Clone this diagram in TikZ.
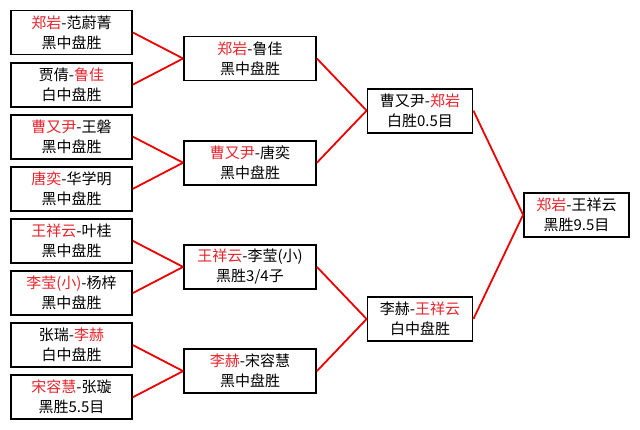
\documentclass[tikz,border=0pt]{standalone}
\usepackage{fontspec}
\setmainfont{Noto Sans CJK SC}
\definecolor{winred}{RGB}{232,36,44}
\definecolor{linkred}{RGB}{236,0,0}
\usepackage{tikz}
\usetikzlibrary{positioning}
\newcommand{\winner}[1]{\textcolor{winred}{#1}}

\begin{document}
\begin{tikzpicture}[x=1pt,y=-1pt,
    game/.style={draw, line width=1.8pt, minimum height=44pt, inner sep=0pt,
      align=center, font=\fontsize{15}{20}\selectfont},
    link/.style={linkred, line width=1.8pt}]
        \useasboundingbox[fill=white] (0,0) rectangle (640,429);
        % First round
        \node[game, minimum width=121pt] (r1a) at (71.5,32.5)  {\winner{郑岩}-范蔚菁\\黑中盘胜};
        \node[game, minimum width=121pt] (r1b) at (71.5,84.6)  {贾倩-\winner{鲁佳}\\白中盘胜};
        \node[game, minimum width=121pt] (r1c) at (71.5,136.7) {\winner{曹又尹}-王磐\\黑中盘胜};
        \node[game, minimum width=121pt] (r1d) at (71.5,188.8) {\winner{唐奕}-华学明\\黑中盘胜};
        \node[game, minimum width=121pt] (r1e) at (71.5,240.9) {\winner{王祥云}-叶桂\\黑中盘胜};
        \node[game, minimum width=121pt] (r1f) at (71.5,293.0) {\winner{李莹(小)}-杨梓\\黑中盘胜};
        \node[game, minimum width=121pt] (r1g) at (71.5,345.1) {张瑞-\winner{李赫}\\白中盘胜};
        \node[game, minimum width=121pt] (r1h) at (71.5,397.2) {\winner{宋容慧}-张璇\\黑胜5.5目};
        % Second round
        \node[game, minimum width=132pt] (r2a) at (250,58.5)  {\winner{郑岩}-鲁佳\\黑中盘胜};
        \node[game, minimum width=132pt] (r2b) at (250,162.7) {\winner{曹又尹}-唐奕\\黑中盘胜};
        \node[game, minimum width=132pt] (r2c) at (250,266.9) {\winner{王祥云}-李莹(小)\\黑胜3/4子};
        \node[game, minimum width=132pt] (r2d) at (250,371.1) {\winner{李赫}-宋容慧\\黑中盘胜};
        % Semi-final
        \node[game, minimum width=105pt] (r3a) at (420,110.6) {曹又尹-\winner{郑岩}\\白胜0.5目};
        \node[game, minimum width=105pt] (r3b) at (420,319.0) {李赫-\winner{王祥云}\\白中盘胜};
        % Final
        \node[game, minimum width=105pt] (fin) at (576.5,214.8) {\winner{郑岩}-王祥云\\黑胜9.5目};
        % Links
        \foreach \a/\b in {r1a/r2a, r1b/r2a, r1c/r2b, r1d/r2b, r1e/r2c, r1f/r2c, r1g/r2d, r1h/r2d,
                           r2a/r3a, r2b/r3a, r2c/r3b, r2d/r3b, r3a/fin, r3b/fin} {
          \draw[link] (\a.east) -- (\b.west);
        }
      \end{tikzpicture}
\end{document}
